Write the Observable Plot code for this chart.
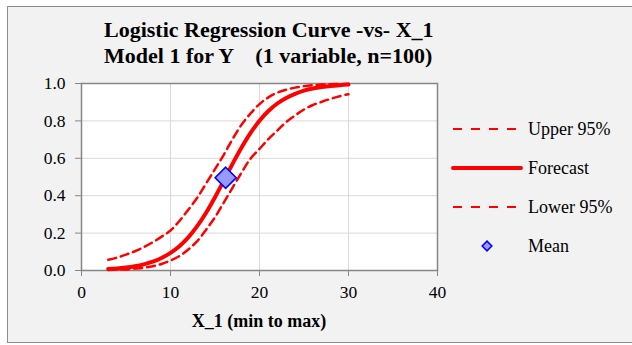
<!DOCTYPE html>
<html>
<head>
<meta charset="utf-8">
<script src="https://cdn.jsdelivr.net/npm/d3@7"></script>
<script src="https://cdn.jsdelivr.net/npm/@observablehq/plot@0.6"></script>
<style>
  html, body { margin: 0; padding: 0; background: #ffffff; }
  #chart { width: 632px; height: 345px; overflow: hidden; }
  #chart svg text { font-family: "Liberation Serif", "Times New Roman", serif !important; }
</style>
</head>
<body>
<div id="chart"></div>
<script>
// ---- data ----
const titleLines = ["Logistic Regression Curve -vs- X_1", "Model 1 for Y    (1 variable, n=100)"];
const xLabel = "X_1 (min to max)";
const xTicks = [0, 10, 20, 30, 40];
const yTicks = [0, 0.2, 0.4, 0.6, 0.8, 1.0];
const xValues = [3, 4, 5, 6, 7, 8, 9, 10, 11, 12, 13, 14, 15, 16, 17, 18, 19, 20, 21, 22, 23, 24, 25, 26, 27, 28, 29, 30];
const forecast = [0.008, 0.011, 0.016, 0.023, 0.033, 0.047, 0.067, 0.094, 0.130, 0.177, 0.237, 0.309, 0.392, 0.482, 0.573, 0.659, 0.736, 0.801, 0.853, 0.893, 0.923, 0.945, 0.962, 0.973, 0.981, 0.987, 0.991, 0.994];
const upper95 = [0.057, 0.069, 0.085, 0.103, 0.125, 0.151, 0.181, 0.214, 0.265, 0.325, 0.389, 0.465, 0.542, 0.620, 0.705, 0.781, 0.840, 0.890, 0.926, 0.951, 0.967, 0.978, 0.986, 0.991, 0.994, 0.996, 0.997, 0.998];
const lower95 = [0.003, 0.004, 0.006, 0.010, 0.015, 0.023, 0.035, 0.053, 0.077, 0.112, 0.157, 0.218, 0.285, 0.364, 0.445, 0.525, 0.599, 0.650, 0.703, 0.748, 0.794, 0.829, 0.861, 0.885, 0.902, 0.918, 0.932, 0.943];
const meanX = [16.2];
const meanY = [0.496];
const legendLabels = ["Upper 95%", "Forecast", "Lower 95%", "Mean"];

// ---- build tables ----
const rows = xValues.map((x, i) => ({x, forecast: forecast[i], upper: upper95[i], lower: lower95[i]}));
const meanRows = meanX.map((x, i) => ({x, y: meanY[i]}));

const RED = "#ff0000";
const GRID = "#d9d9d9";
const AXIS = "#868686";
const FONT = "Liberation Serif, Times New Roman, serif";

const plot = Plot.plot({
  width: 632,
  height: 345,
  marginLeft: 81,
  marginRight: 195,
  marginTop: 83,
  marginBottom: 75,
  style: {fontFamily: FONT, fontSize: "17.5px", background: "transparent", color: "black", overflow: "visible"},
  x: {domain: [0, 40], ticks: xTicks},
  y: {domain: [0, 1], ticks: yTicks},
  marks: [
    Plot.frame({fill: "white", stroke: null}),
    Plot.gridX(xTicks.filter(d => d > 0 && d < 40), {stroke: GRID, strokeOpacity: 1, strokeWidth: 1}),
    Plot.gridY(yTicks.filter(d => d > 0 && d < 1), {stroke: GRID, strokeOpacity: 1, strokeWidth: 1}),
    Plot.frame({stroke: AXIS, strokeWidth: 1.5}),
    Plot.axisX({ticks: xTicks, tickSize: 6, tickPadding: 9, stroke: AXIS, fill: "black", fontSize: 17.5, fontFamily: FONT, tickFormat: d3.format("d"), label: null}),
    Plot.axisY({ticks: yTicks, tickSize: 6, tickPadding: 10, stroke: AXIS, fill: "black", fontSize: 17.5, fontFamily: FONT, tickFormat: d3.format(".1f"), label: null}),
    Plot.line(rows, {x: "x", y: "upper", stroke: RED, strokeWidth: 2.5, strokeDasharray: "8,5", curve: "catmull-rom"}),
    Plot.line(rows, {x: "x", y: "lower", stroke: RED, strokeWidth: 2.5, strokeDasharray: "8,5", curve: "catmull-rom"}),
    Plot.line(rows, {x: "x", y: "forecast", stroke: RED, strokeWidth: 4, curve: "catmull-rom"}),
    Plot.dot(meanRows, {x: "x", y: "y", symbol: "diamond2", r: 9.5, fill: "#9999ff", stroke: "#0000ff", strokeWidth: 1.6})
  ]
});

const svg = d3.select(plot);
// outer chart-area background + border, inserted first
svg.insert("rect", ":first-child")
  .attr("x", 7.5).attr("y", 6.5).attr("width", 640).attr("height", 336)
  .attr("fill", "#f2f2f2").attr("stroke", "#8c8c8c").attr("stroke-width", 1);

// title
const title = svg.append("text")
  .attr("text-anchor", "start")
  .attr("font-size", "22px").attr("font-weight", "bold").attr("fill", "black");
titleLines.forEach((t, i) => {
  title.append("tspan").attr("x", 104).attr("y", 37 + i * 26).attr("xml:space", "preserve").style("white-space", "pre").text(t);
});

// x axis label
svg.append("text")
  .attr("x", 259).attr("y", 327).attr("text-anchor", "middle")
  .attr("font-size", "18px").attr("font-weight", "bold").attr("fill", "black")
  .text(xLabel);

// legend
const legendY = [129, 168, 207, 246];
const lg = svg.append("g").attr("font-size", "18px").attr("text-anchor", "start");
legendLabels.forEach((lab, i) => {
  const y = legendY[i];
  if (i === 0 || i === 2) {
    lg.append("line").attr("x1", 453).attr("x2", 519).attr("y1", y).attr("y2", y)
      .attr("stroke", RED).attr("stroke-width", 2.2).attr("stroke-dasharray", "9,9");
  } else if (i === 1) {
    lg.append("line").attr("x1", 453).attr("x2", 521).attr("y1", y).attr("y2", y)
      .attr("stroke", RED).attr("stroke-width", 4).attr("stroke-linecap", "round");
  } else {
    lg.append("path").attr("transform", `translate(487,${y})`)
      .attr("d", d3.symbol(d3.symbolDiamond2, 60)())
      .attr("fill", "#9999ff").attr("stroke", "#0000ff").attr("stroke-width", 1.5);
  }
  lg.append("text").attr("x", 528).attr("y", y + 6).attr("fill", "black").text(lab);
});

document.getElementById("chart").appendChild(plot);
</script>
</body>
</html>
